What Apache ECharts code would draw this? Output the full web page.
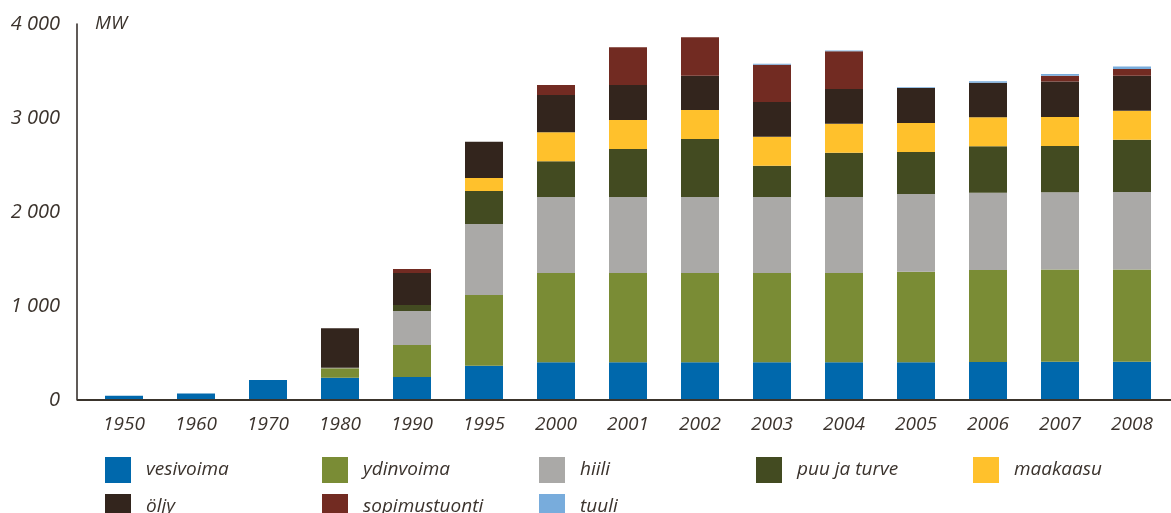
<!DOCTYPE html>
<html>
<head>
<meta charset="utf-8">
<script src="https://cdn.jsdelivr.net/npm/echarts@6/dist/echarts.min.js"></script>
<style>
  html, body { margin: 0; padding: 0; background: #fff; }
  #chart { width: 1171px; height: 513px; }
</style>
</head>
<body>
<div id="chart"></div>
<script>
// vuodet
var years = ['1950', '1960', '1970', '1980', '1990', '1995', '2000', '2001', '2002', '2003', '2004', '2005', '2006', '2007', '2008'];

// MW, luettu kuvasta
var vesivoima    = [45, 70, 213, 237, 245, 365, 401, 401, 401, 401, 401, 401, 404, 408, 408];
var ydinvoima    = [0, 0, 0, 100, 340, 752, 950, 950, 950, 950, 950, 964, 979, 979, 979];
var hiili        = [0, 0, 0, 5, 362, 755, 809, 809, 809, 809, 809, 826, 823, 822, 826];
var puuJaTurve   = [0, 0, 0, 0, 64, 351, 379, 510, 617, 333, 471, 447, 493, 493, 556];
var maakaasu     = [0, 0, 0, 0, 0, 139, 309, 309, 308, 308, 309, 309, 308, 309, 309];
var oljy         = [0, 0, 0, 420, 340, 386, 397, 372, 365, 369, 369, 372, 369, 376, 372];
var sopimustuonti = [0, 0, 0, 0, 43, 0, 106, 401, 408, 397, 400, 0, 0, 63, 71];
var tuuli        = [0, 0, 0, 0, 0, 0, 0, 0, 0, 10, 10, 8, 14, 18, 28];

var yTicks = [0, 1000, 2000, 3000, 4000];

var names = ['vesivoima', 'ydinvoima', 'hiili', 'puu ja turve', 'maakaasu', 'öljy', 'sopimustuonti', 'tuuli'];
var values = [vesivoima, ydinvoima, hiili, puuJaTurve, maakaasu, oljy, sopimustuonti, tuuli];
var colors = ['#0068ac', '#7a8c35', '#aaa9a7', '#434b21', '#ffc12c', '#33251d', '#722b22', '#78acdc'];

var font = '"Open Sans", "DejaVu Sans", sans-serif';
var textColor = '#3b332d';

var chart = echarts.init(document.getElementById('chart'));

var series = names.map(function (n, i) {
  return {
    name: n,
    type: 'bar',
    stack: 'total',
    barWidth: 38,
    data: values[i],
    itemStyle: { color: colors[i] },
    emphasis: { disabled: true }
  };
});

// one legend per item, laid out in a 5-column grid
var legends = names.map(function (n, i) {
  return {
    data: [n],
    left: 105 + (i % 5) * 217,
    top: i < 5 ? 457 : 494,
    padding: 0,
    itemWidth: 26,
    itemHeight: 26,
    itemGap: 0,
    icon: 'rect',
    selectedMode: false,
    textStyle: {
      fontFamily: font,
      fontStyle: 'italic',
      fontSize: 19,
      color: textColor,
      padding: [0, 0, 0, 10]
    }
  };
});

var option = {
  animation: false,
  backgroundColor: '#fff',
  grid: { left: 88, right: 3, top: 24, bottom: 113 },
  legend: legends,
  xAxis: {
    type: 'category',
    data: years,
    axisLine: { show: false },
    axisTick: { show: false },
    axisLabel: {
      margin: 15,
      fontFamily: font,
      fontStyle: 'italic',
      fontSize: 19,
      color: textColor
    }
  },
  yAxis: {
    type: 'value',
    min: yTicks[0],
    max: yTicks[yTicks.length - 1],
    interval: 1000,
    offset: 11,
    name: 'MW',
    nameLocation: 'end',
    nameGap: 0,
    nameTextStyle: {
      fontFamily: font,
      fontStyle: 'italic',
      fontSize: 19,
      color: textColor,
      align: 'left',
      verticalAlign: 'middle',
      padding: [0, 0, 0, 18]
    },
    axisLine: { show: true, lineStyle: { color: '#2b2520', width: 1.5 } },
    axisTick: { show: false },
    splitLine: { show: false },
    axisLabel: {
      margin: 17,
      fontFamily: font,
      fontStyle: 'italic',
      fontSize: 20,
      color: textColor,
      formatter: function (v) {
        return String(v).replace(/\B(?=(\d{3})+(?!\d))/g, ' ');
      }
    }
  },
  graphic: [{
    type: 'line',
    shape: { x1: 77, y1: 400, x2: 1171, y2: 400 },
    style: { stroke: '#3a342c', lineWidth: 2 },
    z: 10
  }],
  series: series
};

chart.setOption(option);
</script>
</body>
</html>
